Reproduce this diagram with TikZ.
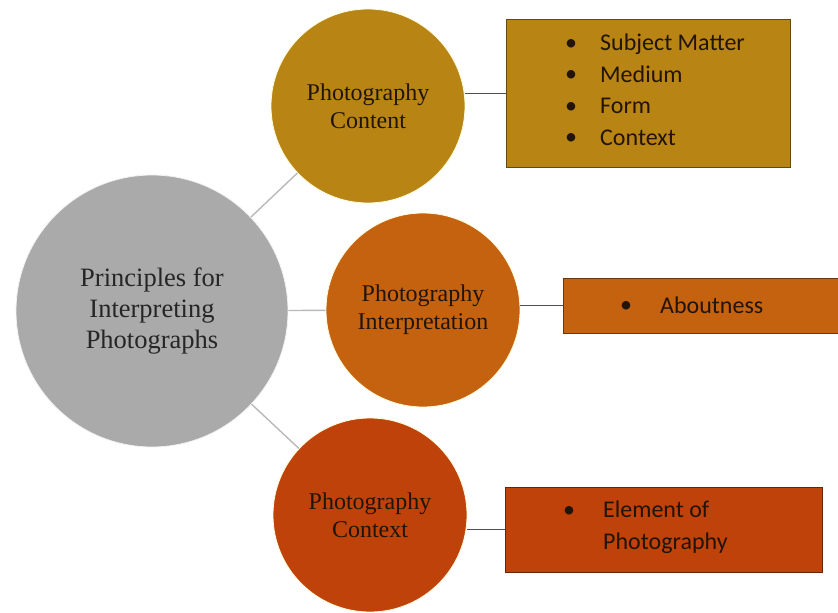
\documentclass[tikz,border=0pt]{standalone}
\usepackage{fontspec}
\setmainfont{Liberation Serif}
\newfontfamily\boxfont{Carlito}
\definecolor{cgold}{RGB}{184,132,20}
\definecolor{corange}{RGB}{197,98,16}
\definecolor{crust}{RGB}{190,66,10}
\definecolor{cgray}{RGB}{170,170,170}
\definecolor{ctext}{RGB}{34,20,8}
\definecolor{clink}{RGB}{185,185,185}
\definecolor{cdark}{RGB}{80,80,80}
\begin{document}
\begin{tikzpicture}[x=1pt,y=-1pt,
  circ/.style={circle,draw=white!85!yellow,line width=0.8pt,inner sep=0pt,minimum size=194pt,
    align=center,font=\fontsize{24}{28}\selectfont,text=ctext},
  bigc/.style={circle,draw=white!90!gray,line width=0.8pt,inner sep=0pt,minimum size=272pt,fill=cgray,
    align=center,font=\fontsize{26.5}{31}\selectfont,text=black!85},
  boxr/.style={rectangle,draw=#1!55!black,line width=0.8pt,fill=#1,inner sep=0pt},
  btext/.style={anchor=west,align=left,inner sep=0pt,font=\boxfont\fontsize{24}{31.5}\selectfont,text=ctext},
  link/.style={draw=clink,line width=1.4pt},
  blink/.style={draw=cdark,line width=1pt}]
\useasboundingbox (0,0) rectangle (838,613);
\newcommand{\bl}{\makebox[35pt][l]{\raisebox{0.5pt}{•}}}
% boxes
\node[boxr=cgold,minimum width=284pt,minimum height=148pt] (box1) at (648,93) {};
\node[boxr=corange,minimum width=280pt,minimum height=55pt] (box2) at (703,305.5) {};
\node[boxr=crust,minimum width=317pt,minimum height=85pt] (box3) at (663.5,529.5) {};
% circles
\node[bigc] (main) at (152,311) {Principles for\\Interpreting\\Photographs};
\node[circ,fill=cgold] (content) at (368,106) {Photography\\Content};
\node[circ,fill=corange] (interp) at (423,310) {Photography\\Interpretation};
\node[circ,fill=crust] (context) at (370,515) {Photography\\Context};
% links
\draw[link] (main) -- (content);
\draw[link] (main) -- (interp);
\draw[link] (main) -- (context);
\draw[blink] (box1.west) -- (box1.west -| content.east);
\draw[blink] (box2.west) -- (box2.west -| interp.east);
\draw[blink] (box3.west) -- (box3.west -| context.east);
% box texts
\node[btext] (t1) at (565,90) {\bl Subject Matter\\\bl Medium\\\bl Form\\\bl Context};
\node[btext] (t2) at (620,305) {\makebox[40pt][l]{\raisebox{0.5pt}{•}}Aboutness};
\node[btext] (t3) at (563,527) {\makebox[40pt][l]{\raisebox{0.5pt}{•}}Element of\\\makebox[40pt][l]{}Photography};
\end{tikzpicture}
\end{document}
